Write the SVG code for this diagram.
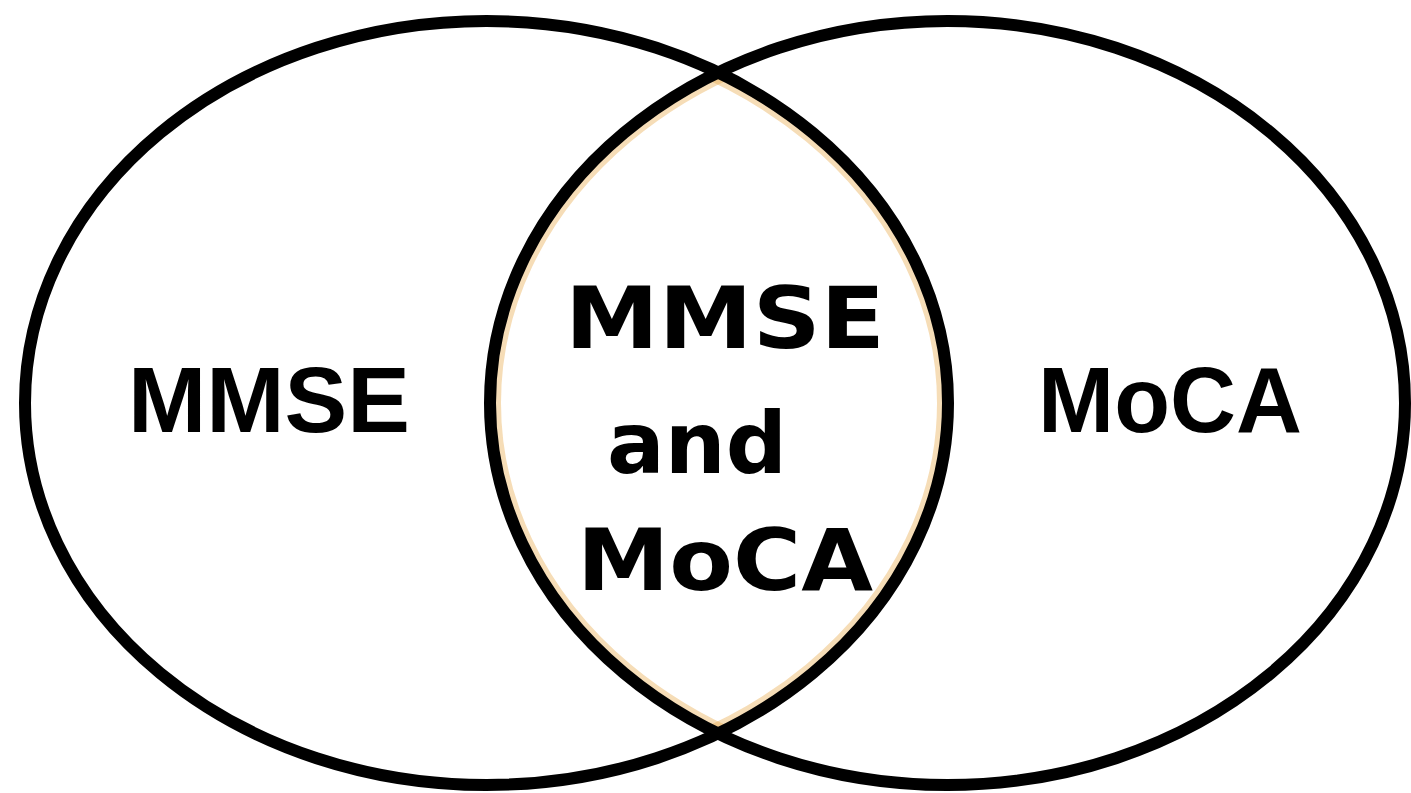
<svg xmlns="http://www.w3.org/2000/svg" width="1411" height="793" viewBox="0 0 1411 793">
<style>
.set{fill:none;stroke:#000;stroke-width:12}
.glow{fill:none;stroke:#e9a94a;stroke-width:22;opacity:0.4}
.big{font-family:"Liberation Sans",Arial,sans-serif;font-weight:bold;font-size:93px;fill:#000}
.mid{font-family:"DejaVu Sans",Verdana,sans-serif;font-weight:bold;font-size:85px;fill:#000}
</style>
<defs>
<clipPath id="clipL"><ellipse cx="486.5" cy="403" rx="461.5" ry="382"/></clipPath>
<clipPath id="clipR"><ellipse cx="947.5" cy="403" rx="457.5" ry="382"/></clipPath>
</defs>
<rect width="1411" height="793" fill="#fff"/>
<g id="lens-glow" clip-path="url(#clipL)">
<g clip-path="url(#clipR)">
<ellipse class="glow" cx="486.5" cy="403" rx="461.5" ry="382"/>
<ellipse class="glow" cx="947.5" cy="403" rx="457.5" ry="382"/>
</g>
</g>
<g id="set-mmse">
<ellipse class="set" cx="486.5" cy="403" rx="461.5" ry="382"/>
<text class="big" x="128" y="432" textLength="282" lengthAdjust="spacingAndGlyphs">MMSE</text>
</g>
<g id="set-moca">
<ellipse class="set" cx="947.5" cy="403" rx="457.5" ry="382"/>
<text class="big" x="1038" y="432" textLength="264" lengthAdjust="spacingAndGlyphs">MoCA</text>
</g>
<g id="intersection">
<text class="mid" x="565" y="348" textLength="320" lengthAdjust="spacingAndGlyphs">MMSE</text>
<text class="mid" x="607" y="473" textLength="180" lengthAdjust="spacingAndGlyphs">and</text>
<text class="mid" x="577" y="590" textLength="296" lengthAdjust="spacingAndGlyphs">MoCA</text>
</g>
<g id="connectors"/>
</svg>
